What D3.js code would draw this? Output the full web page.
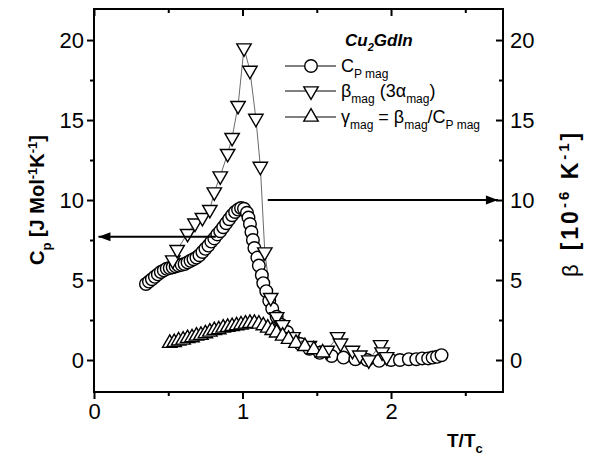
<!DOCTYPE html>
<html><head><meta charset="utf-8">
<script src="https://cdn.jsdelivr.net/npm/d3@7"></script>
<style>body{margin:0;background:#fff;} text{font-family:"Liberation Sans",Arial,sans-serif;}</style>
</head><body><svg id="c" width="601" height="457"></svg>
<script>
// ---- data ----
const cpT = [0.35,0.37,0.39,0.41,0.43,0.45,0.47,0.49,0.51,0.53,0.55,0.57,0.59,0.61,0.63,0.65,0.67,0.69,0.71,0.73,0.75,0.77,0.79,0.81,0.83,0.85,0.87,0.89,0.91,0.93,0.95,0.97,0.99,1.01,1.03,1.04,1.05,1.06,1.07,1.08,1.10,1.11,1.13,1.14,1.16,1.18,1.20,1.23,1.26,1.30,1.34,1.39,1.45,1.52,1.60,1.68,1.76,1.84,1.92,2.00,2.06,2.12,2.17,2.21,2.25,2.28,2.31,2.34];
const cpVal = [4.75,4.9,5.05,5.2,5.35,5.5,5.6,5.7,5.75,5.8,5.85,5.9,5.95,6.0,6.1,6.2,6.3,6.4,6.55,6.75,6.95,7.15,7.4,7.6,7.85,8.05,8.3,8.55,8.8,9.05,9.25,9.4,9.5,9.45,9.2,8.9,8.5,8.0,7.5,7.0,6.4,5.9,5.3,4.8,4.3,3.7,3.2,2.7,2.2,1.75,1.35,1.0,0.7,0.45,0.25,0.15,0.05,0.0,-0.05,0.0,0.0,0.05,0.05,0.1,0.1,0.15,0.2,0.3];
const betaT = [0.53,0.56,0.63,0.68,0.73,0.78,0.81,0.85,0.90,0.93,0.97,1.01,1.05,1.09,1.12,1.15,1.19,1.23,1.27,1.34,1.45,1.57,1.64,1.66,1.74,1.79,1.85,1.93,1.94,1.97];
const betaVal = [6.25,6.9,7.9,8.55,8.9,9.4,10.5,11.5,12.9,13.9,15.9,19.5,18.1,15.1,12.1,6.75,3.9,2.7,2.2,1.45,0.9,0.6,1.45,1.05,0.6,0.3,0.0,0.95,0.5,0.2];
const gamT = [0.51,0.54,0.57,0.60,0.63,0.66,0.69,0.72,0.75,0.78,0.81,0.84,0.87,0.90,0.93,0.96,0.99,1.02,1.05,1.08,1.11,1.14,1.17,1.20,1.23,1.27,1.31,1.36,1.42,1.48,1.54];
const gamVal = [1.05,1.1,1.2,1.25,1.35,1.4,1.5,1.55,1.65,1.75,1.85,1.9,2.0,2.05,2.1,2.15,2.2,2.25,2.3,2.3,2.25,2.15,2.0,1.85,1.7,1.5,1.3,1.05,0.85,0.65,0.45];
const xTicks = [0,1,2];
const xMinor = [0.5,1.5,2.5];
const yTicks = [0,5,10,15,20];
const yMinor = [2.5,7.5,12.5,17.5];
// arrows in data units: [x1,x2,y]
const arrowLeft = [0.82, 0.03, 7.7];
const arrowRight = [1.17, 2.72, 10.0];

// ---- layout ----
const svg = d3.select("#c");
const L=94, R=503, T=9, B=392;
const x = d3.scaleLinear().domain([0,2.754]).range([L,R]);
const y = d3.scaleLinear().domain([-2,21.94]).range([B,T]);
const y2 = d3.scaleLinear().domain([-2,21.94]).range([B,T]);
const fs = 22;

svg.append("rect").attr("x",L).attr("y",T).attr("width",R-L).attr("height",B-T)
  .attr("fill","none").attr("stroke","#000").attr("stroke-width",2);

svg.append("g").attr("transform",`translate(0,${B})`)
  .call(d3.axisBottom(x).tickValues(xTicks).tickSize(7).tickPadding(4).tickFormat(d3.format("d")));
svg.append("g").attr("transform",`translate(0,${B})`)
  .call(d3.axisBottom(x).tickValues(xMinor).tickSize(4).tickFormat(""));
svg.append("g").attr("transform",`translate(0,${T})`)
  .call(d3.axisBottom(x).tickValues(xTicks).tickSize(7).tickFormat(""));
svg.append("g").attr("transform",`translate(0,${T})`)
  .call(d3.axisBottom(x).tickValues(xMinor).tickSize(4).tickFormat(""));
svg.append("g").attr("transform",`translate(${L},0)`)
  .call(d3.axisLeft(y).tickValues(yTicks).tickSize(7).tickPadding(3).tickFormat(d3.format("d")));
svg.append("g").attr("transform",`translate(${L},0)`)
  .call(d3.axisLeft(y).tickValues(yMinor).tickSize(4).tickFormat(""));
const gR = svg.append("g").attr("transform",`translate(${R},0)`)
  .call(d3.axisLeft(y2).tickValues(yTicks).tickSize(7).tickFormat(d3.format("d")));
gR.selectAll("text").attr("x",7).attr("text-anchor","start");
svg.append("g").attr("transform",`translate(${R},0)`)
  .call(d3.axisLeft(y2).tickValues(yMinor).tickSize(4).tickFormat(""));

svg.selectAll(".domain").remove();
svg.selectAll(".tick line").attr("stroke","#000").attr("stroke-width",2);
svg.selectAll(".tick text").attr("font-size",fs).attr("fill","#000").attr("font-family","Liberation Sans, Arial, sans-serif");

// data series
const cp = cpT.map((t,i)=>[t,cpVal[i]]);
const be = betaT.map((t,i)=>[t,betaVal[i]]);
const ga = gamT.map((t,i)=>[t,gamVal[i]]);
const line = d3.line().x(d=>x(d[0])).y(d=>y(d[1]));
const line2 = d3.line().x(d=>x(d[0])).y(d=>y2(d[1]));
const g = svg.append("g");
g.append("path").attr("d",line(cp)).attr("fill","none").attr("stroke","#444").attr("stroke-width",0.8);
g.append("path").attr("d",line2(be)).attr("fill","none").attr("stroke","#444").attr("stroke-width",0.8);
g.append("path").attr("d",line(ga)).attr("fill","none").attr("stroke","#444").attr("stroke-width",0.8);

const tri = d3.symbol().type(d3.symbolTriangle).size(90);
g.selectAll("circle.cp").data(cp).join("circle").attr("class","cp")
  .attr("cx",d=>x(d[0])).attr("cy",d=>y(d[1])).attr("r",6.3)
  .attr("fill","#fff").attr("stroke","#000").attr("stroke-width",1.4);
g.selectAll("path.be").data(be).join("path").attr("class","be")
  .attr("d",tri).attr("transform",d=>`translate(${x(d[0])},${y2(d[1])}) rotate(180)`)
  .attr("fill","#fff").attr("stroke","#000").attr("stroke-width",1.4);
g.selectAll("path.ga").data(ga).join("path").attr("class","ga")
  .attr("d",tri).attr("transform",d=>`translate(${x(d[0])},${y(d[1])})`)
  .attr("fill","#fff").attr("stroke","#000").attr("stroke-width",1.4);

// arrows
function arrow(a){
  const x1=x(a[0]), x2=x(a[1]), yy=y(a[2]);
  svg.append("line").attr("x1",x1).attr("x2",x2).attr("y1",yy).attr("y2",yy).attr("stroke","#000").attr("stroke-width",2);
  const s = x2>x1?1:-1;
  svg.append("path").attr("d",`M${x2},${yy} L${x2-s*12},${yy-4.5} L${x2-s*12},${yy+4.5} Z`).attr("fill","#000");
}
arrow(arrowLeft); arrow(arrowRight);

// rich text helper: parts = [[text, mode]] mode: 0 normal, 1 sub, 2 sup
function rich(t, parts, big, small, off){
  let cur = 0;
  parts.forEach(([s,m])=>{
    const target = m===1?off:(m===2?-off:0);
    const sp = t.append("tspan").text(s).attr("font-size",m?small:big);
    if(target!==cur){ sp.attr("dy",target-cur); cur=target; }
  });
}

// legend
const lg = svg.append("g");
const t0 = lg.append("text").attr("x",345).attr("y",46).attr("font-weight","bold").attr("font-style","italic");
rich(t0,[["Cu",0],["2",1],["GdIn",0]],17,11,5);
const rows=[66,91,117];
rows.forEach((ry,i)=>{
  lg.append("line").attr("x1",285).attr("x2",336).attr("y1",ry).attr("y2",ry).attr("stroke","#000").attr("stroke-width",1);
  if(i===0) lg.append("circle").attr("cx",311).attr("cy",ry).attr("r",6.3).attr("fill","#fff").attr("stroke","#000").attr("stroke-width",1.4);
  else lg.append("path").attr("d",tri).attr("transform",`translate(311,${ry})`+(i===1?" rotate(180)":"")).attr("fill","#fff").attr("stroke","#000").attr("stroke-width",1.4);
});
rich(lg.append("text").attr("x",341).attr("y",72),[["C",0],["P mag",1]],18,12,6);
rich(lg.append("text").attr("x",341).attr("y",97),[["β",0],["mag",1],[" (3α",0],["mag",1],[")",0]],18,12,6);
rich(lg.append("text").attr("x",341).attr("y",123),[["γ",0],["mag",1],[" = β",0],["mag",1],["/C",0],["P mag",1]],18,12,6);

// axis titles
const yl = svg.append("text").attr("transform","translate(44,200) rotate(-90)").attr("text-anchor","middle").attr("font-weight","bold");
rich(yl,[["C",0],["p",1],[" [J Mol",0],["-1",2],["K",0],["-1",2],["]",0]],20,13,7);

const yr = svg.append("text").attr("transform","translate(578,277) rotate(-90)").attr("text-anchor","start");
yr.append("tspan").attr("font-size",22).text("β");
const yrb = yr.append("tspan").attr("font-weight","bold").attr("dx",14).attr("letter-spacing",3);
rich(yrb,[["[10",0],["-6",2],[" K",0],["-1",2],["]",0]],23,15,9);

const xl = svg.append("text").attr("x",447).attr("y",447).attr("font-weight","bold");
rich(xl,[["T/T",0],["c",1]],19,13,6);
</script></body></html>
